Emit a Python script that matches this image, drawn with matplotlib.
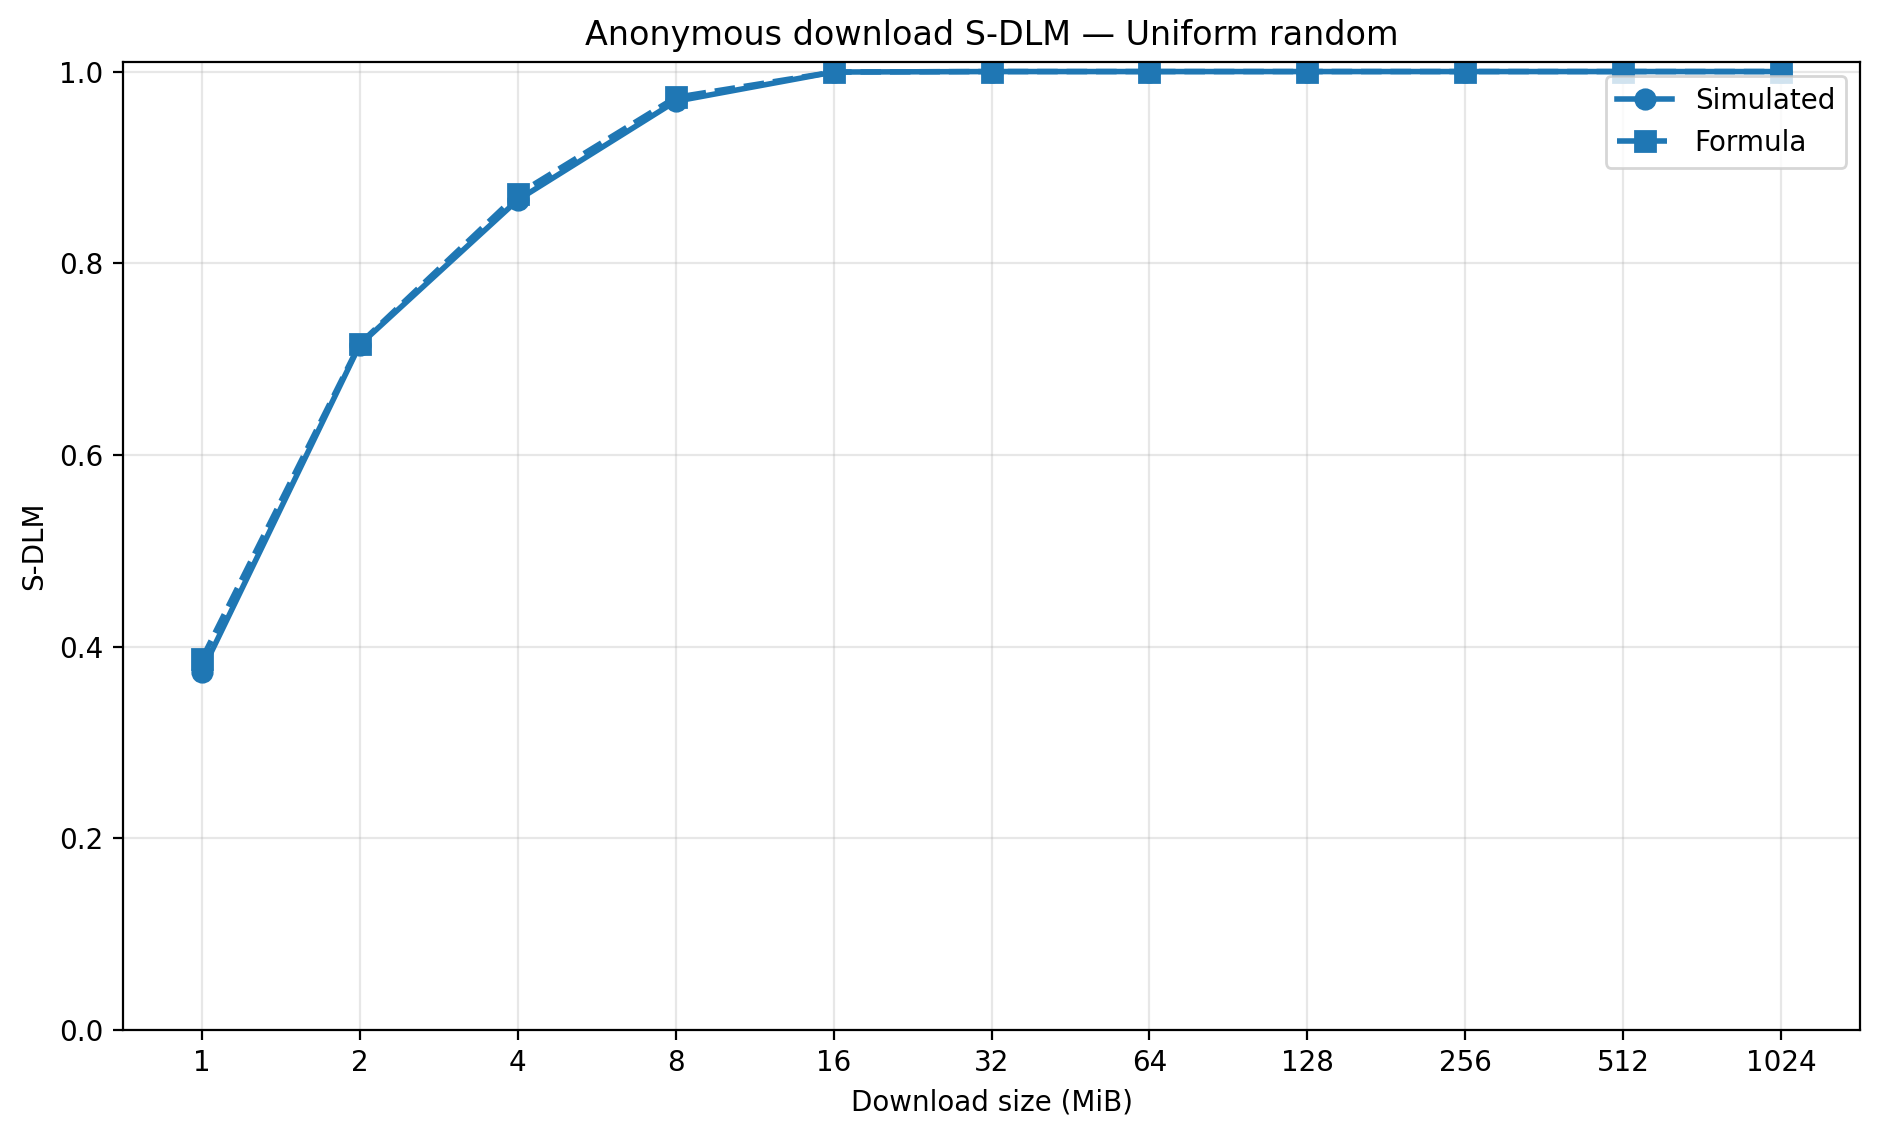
import matplotlib
matplotlib.use('Agg')
import matplotlib.pyplot as plt

sizes_mib = [1, 2, 4, 8, 16, 32, 64, 128, 256, 512, 1024]
sdlm_simulated = [0.374, 0.715, 0.866, 0.969, 0.9995, 1.0, 1.0, 1.0, 1.0, 1.0, 1.0]
sdlm_formula = [0.387, 0.716, 0.872, 0.973, 0.9995, 1.0, 1.0, 1.0, 1.0, 1.0, 1.0]

fig, ax = plt.subplots(figsize=(9.4, 5.685))
ax.plot(sizes_mib, sdlm_simulated, marker='o', linestyle='-', linewidth=2,
        markersize=7, color='#1f77b4', label='Simulated')
ax.plot(sizes_mib, sdlm_formula, marker='s', linestyle='--', linewidth=2,
        markersize=7, color='#1f77b4', label='Formula')

ax.set_xscale('log', base=2)
ax.set_xticks(sizes_mib)
ax.set_xticklabels([str(s) for s in sizes_mib])
ax.minorticks_off()
ax.set_ylim(0, 1.01)
ax.set_xlabel('Download size (MiB)')
ax.set_ylabel('S-DLM')
ax.set_title('Anonymous download S-DLM \u2014 Uniform random')
ax.grid(True, alpha=0.3)
ax.legend(loc='upper right')

fig.subplots_adjust(left=0.0654, right=0.9894, bottom=0.0941, top=0.9455)
fig.savefig('out.png', dpi=200)
